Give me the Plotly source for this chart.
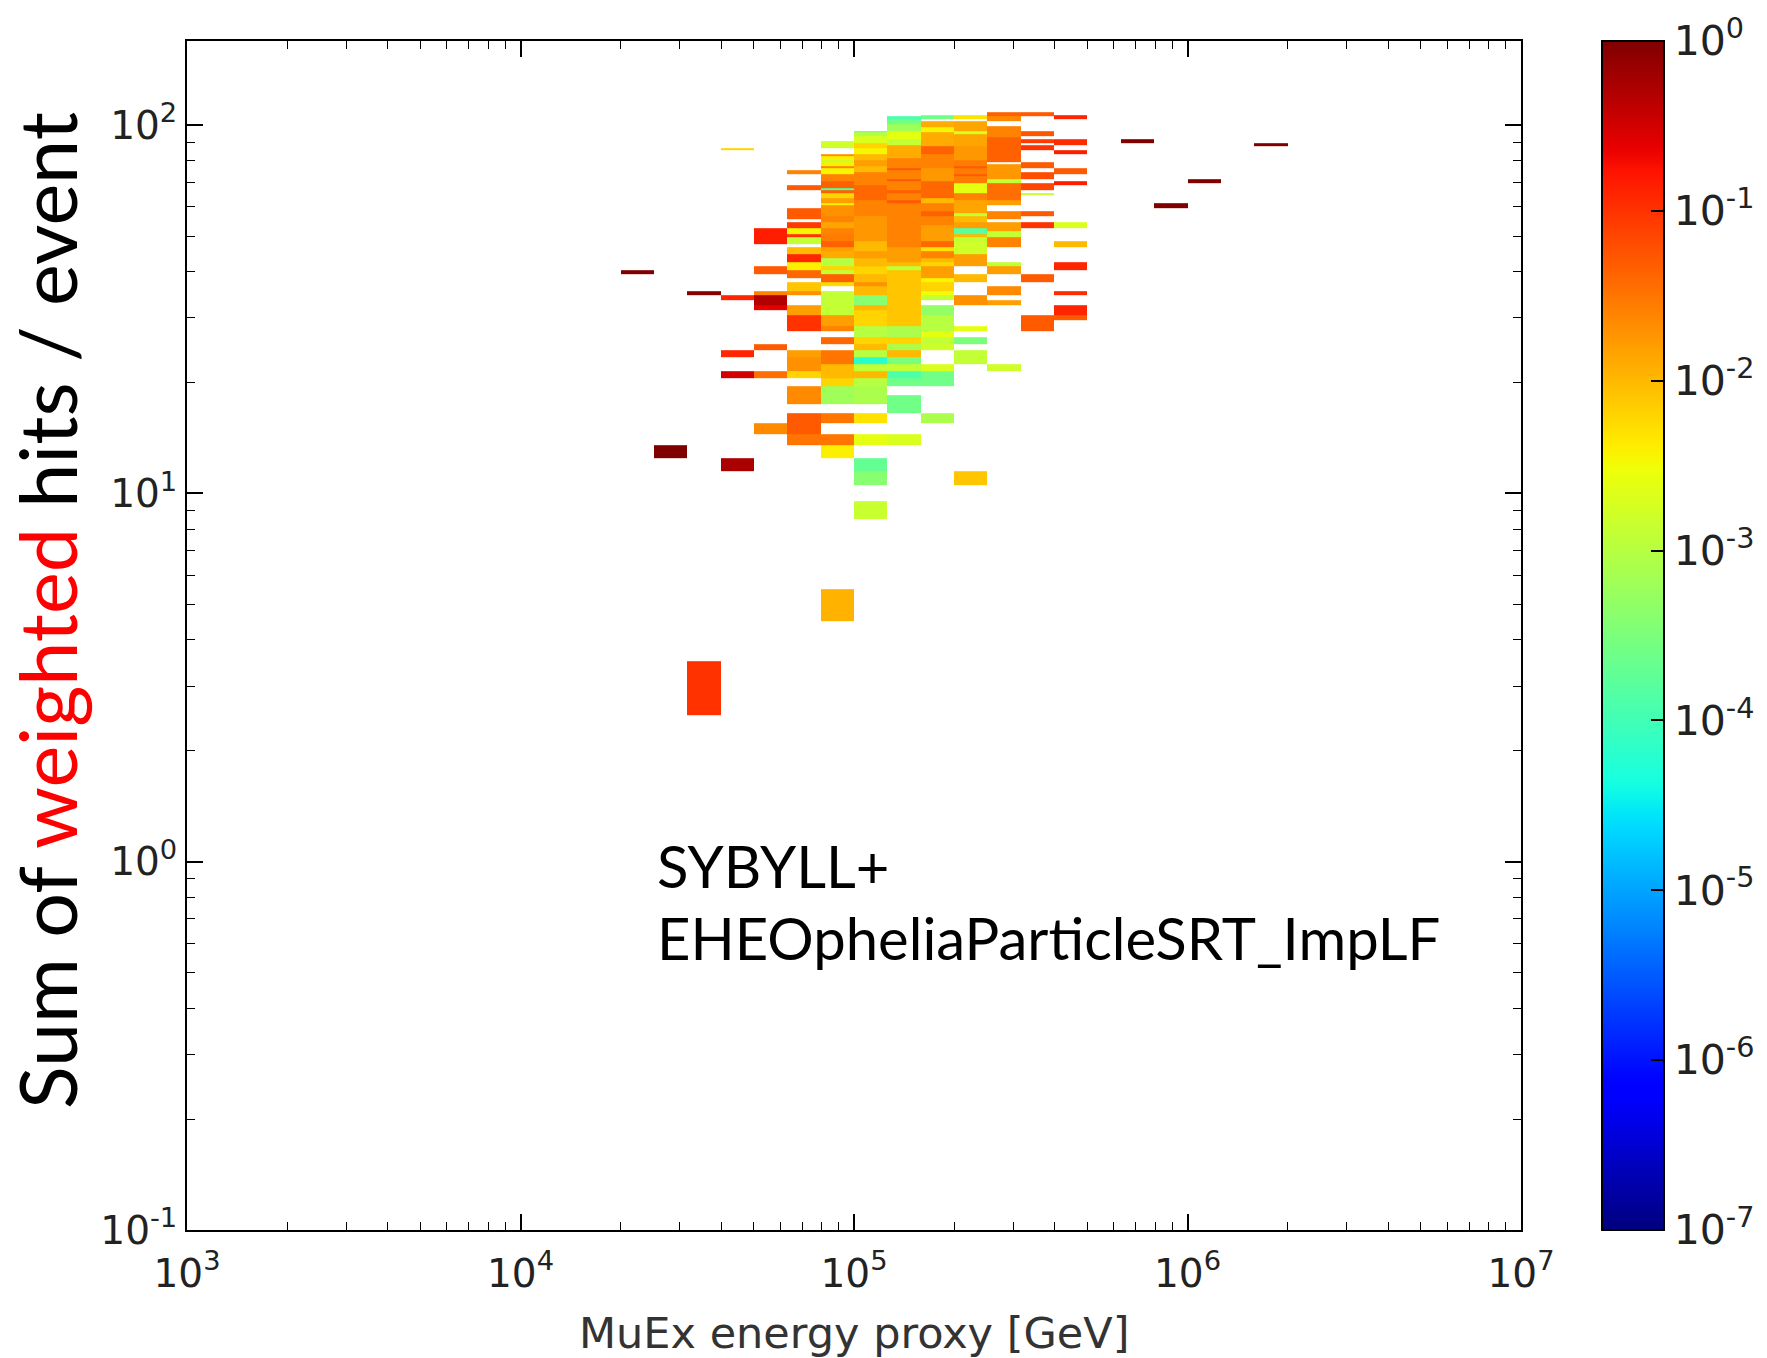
import numpy as np
import plotly.graph_objects as go

# ---------------- data ----------------
# x bins: log10(E/GeV) in steps of 0.1 ; y bins: integer hit sums (width 1)
# each column: list of (hits_low, hits_high, log10(weight))
c43 = [(40, 40, 0.0)]
c44 = [(13, 13, 0.0)]
c45 = [(35, 35, -0.05), (3, 3, -1.0)]
c46 = [(86, 86, -2.2), (34, 34, -0.9), (24, 24, -0.9), (21, 21, -0.5), (12, 12, -0.25)]
c47 = [(48, 52, -0.85), (40, 41, -1.3), (35, 35, -1.6), (33, 34, -0.3), (32, 32, -0.6),
       (25, 25, -1.3), (21, 21, -1.45), (15, 15, -1.65)]
c48 = [(74, 75, -1.6), (67, 68, -1.3), (56, 59, -1.3), (53, 54, -1.05), (51, 52, -2.45),
       (50, 50, -1.0), (48, 49, -2.9), (45, 46, -2.0), (43, 44, -0.9), (41, 42, -2.4),
       (39, 40, -1.4), (36, 37, -2.1), (35, 35, -1.7), (31, 32, -1.8), (28, 30, -1.0),
       (24, 24, -1.8), (22, 23, -1.7), (21, 21, -2.2), (18, 19, -1.65), (15, 16, -1.3),
       (14, 14, -1.5)]
c49 = [(87, 90, -2.8), (83, 83, -1.7), (81, 82, -2.4), (80, 80, -2.9), (78, 79, -2.4),
       (77, 77, -1.6), (74, 76, -2.45), (71, 73, -1.6), (68, 70, -1.35), (67, 67, -3.8),
       (66, 66, -1.35), (64, 65, -2.2), (62, 63, -1.8), (61, 61, -2.4), (57, 60, -1.7),
       (55, 56, -1.6), (53, 54, -1.85), (51, 52, -1.6), (49, 50, -1.55), (47, 48, -1.35),
       (46, 46, -1.8), (44, 45, -1.9), (42, 43, -3.0), (41, 41, -2.2), (40, 40, -2.9),
       (38, 39, -1.35), (37, 37, -2.25), (33, 35, -2.9), (31, 32, -2.9), (29, 30, -1.8),
       (28, 28, -1.6), (26, 26, -1.4), (23, 24, -1.5), (21, 22, -2.0), (20, 20, -2.2),
       (18, 19, -3.2), (16, 16, -1.5), (14, 14, -1.5), (13, 13, -2.4), (5, 5, -1.95)]
c50 = [(96, 96, -3.9), (94, 95, -3.0), (90, 93, -2.7), (87, 89, -2.2), (84, 86, -2.45),
       (81, 83, -2.0), (78, 80, -1.8), (75, 77, -2.0), (69, 74, -1.6), (63, 68, -1.4),
       (57, 62, -1.6), (49, 56, -1.75), (35, 48, -2.0), (44, 45, -1.8), (40, 41, -2.2),
       (37, 37, -1.7), (33, 34, -3.4), (32, 32, -2.0), (29, 31, -2.2), (27, 28, -3.0),
       (26, 26, -2.2), (25, 25, -2.0), (24, 24, -3.0), (23, 23, -4.2), (22, 22, -2.9),
       (21, 21, -2.0), (20, 20, -3.0), (18, 19, -3.1), (16, 16, -2.3), (14, 14, -2.6),
       (12, 12, -3.7), (11, 11, -3.4), (9, 9, -2.85)]
c51 = [(104, 105, -3.9), (101, 103, -3.6), (97, 100, -3.2), (92, 96, -2.6), (89, 91, -2.9),
       (82, 88, -1.9), (57, 81, -1.6), (76, 76, -1.3), (71, 71, -1.3), (66, 66, -1.35),
       (62, 62, -1.3), (47, 56, -1.6), (43, 46, -1.8), (42, 42, -2.0), (41, 41, -2.9),
       (29, 40, -2.1), (27, 28, -3.1), (26, 26, -2.2), (25, 25, -3.1), (24, 24, -2.0),
       (23, 23, -3.5), (22, 22, -2.9), (21, 21, -3.9), (20, 20, -3.6), (17, 18, -3.6),
       (14, 14, -2.7)]
c52 = [(104, 106, -3.6), (99, 102, -1.9), (96, 98, -2.45), (88, 95, -1.9), (84, 87, -1.35),
       (77, 83, -1.6), (71, 76, -1.75), (64, 70, -1.4), (62, 63, -2.0), (59, 61, -1.6),
       (57, 58, -1.35), (54, 56, -1.6), (49, 53, -1.8), (47, 48, -1.4), (46, 46, -2.3),
       (44, 45, -1.6), (43, 43, -2.0), (42, 42, -2.2), (39, 41, -1.8), (38, 38, -2.45),
       (36, 37, -2.2), (35, 35, -2.5), (34, 34, -2.9), (31, 32, -3.3), (28, 30, -3.0),
       (27, 27, -2.6), (26, 26, -2.9), (25, 25, -2.8), (22, 22, -2.7), (20, 21, -3.6),
       (16, 16, -3.1)]
c53 = [(104, 106, -2.3), (97, 102, -1.85), (95, 96, -2.7), (88, 94, -1.85), (81, 87, -1.75),
       (70, 80, -1.55), (77, 77, -1.3), (73, 73, -1.3), (66, 69, -2.6), (63, 65, -1.6),
       (58, 62, -1.85), (57, 57, -2.9), (55, 56, -2.0), (53, 54, -1.8), (51, 52, -3.8),
       (50, 50, -2.0), (49, 49, -2.9), (45, 48, -2.8), (44, 44, -1.8), (42, 43, -1.8),
       (38, 39, -2.0), (33, 34, -1.7), (28, 28, -2.6), (26, 26, -3.5), (23, 24, -2.9),
       (11, 11, -2.1)]
c54 = [(106, 108, -1.35), (103, 105, -1.65), (93, 99, -1.6), (80, 92, -1.35), (72, 78, -1.75),
       (70, 71, -2.9), (63, 69, -1.45), (61, 62, -1.8), (56, 58, -1.6), (52, 54, -1.8),
       (50, 51, -2.9), (47, 49, -1.6), (42, 42, -2.9), (40, 41, -1.8), (35, 36, -1.65),
       (33, 33, -1.8), (22, 22, -2.8)]
c55 = [(106, 108, -1.3), (94, 96, -1.25), (90, 91, -1.05), (86, 88, -1.0), (77, 79, -1.3),
       (72, 74, -1.2), (67, 69, -1.15), (65, 65, -2.9), (57, 58, -1.3), (53, 54, -1.0),
       (38, 39, -1.3), (28, 30, -1.3)]
c56 = [(104, 106, -0.9), (89, 91, -0.95), (84, 85, -0.85), (74, 76, -1.3), (69, 70, -0.85),
       (53, 54, -2.7), (47, 48, -2.0), (41, 42, -0.9), (35, 35, -0.95), (31, 32, -0.9),
       (30, 30, -1.3)]
c58 = [(90, 91, 0.0)]
c59 = [(60, 61, 0.0)]
c60 = [(70, 71, 0.0)]
c62 = [(88, 89, 0.0)]

column_logE = [4.3, 4.4, 4.5, 4.6, 4.7, 4.8, 4.9, 5.0, 5.1, 5.2, 5.3, 5.4, 5.5, 5.6,
               5.8, 5.9, 6.0, 6.2]
column_cells = [c43, c44, c45, c46, c47, c48, c49, c50, c51, c52, c53, c54, c55, c56,
                c58, c59, c60, c62]

x_tick_vals = [1e3, 1e4, 1e5, 1e6, 1e7]
x_tick_text = ["10<sup>3</sup>", "10<sup>4</sup>", "10<sup>5</sup>", "10<sup>6</sup>", "10<sup>7</sup>"]
y_tick_vals = [0.1, 1, 10, 100]
y_tick_text = ["10<sup>-1</sup>", "10<sup>0</sup>", "10<sup>1</sup>", "10<sup>2</sup>"]
cb_tick_vals = [-7, -6, -5, -4, -3, -2, -1, 0]
cb_tick_text = ["10<sup>%d</sup>" % v for v in cb_tick_vals]

label_line1 = "SYBYLL+"
label_line2 = "EHEOpheliaParticleSRT_ImpLF"

# ---------------- binning / matrix ----------------
log_edges = np.round(np.arange(3.0, 7.0001, 0.1), 2)
x_edges = 10 ** log_edges
n_hits = 110
y_edges = np.arange(0.5, n_hits + 0.51, 1.0)
z = np.full((n_hits, len(log_edges) - 1), np.nan)
for le, cells in zip(column_logE, column_cells):
    j = int(round((le - 3.0) / 0.1))
    for lo, hi, w in cells:
        for h in range(lo, hi + 1):
            z[h - 1, j] = w

# matplotlib "jet" colormap as plotly colorscale
def jet(t):
    r = np.interp(t, [0, 0.35, 0.66, 0.89, 1], [0, 0, 1, 1, 0.5])
    g = np.interp(t, [0, 0.125, 0.375, 0.64, 0.91, 1], [0, 0, 1, 1, 0, 0])
    b = np.interp(t, [0, 0.11, 0.34, 0.65, 1], [0.5, 1, 1, 0, 0])
    return "rgb(%d,%d,%d)" % (round(r * 255), round(g * 255), round(b * 255))

ts = np.linspace(0, 1, 101)
jet_scale = [[float(t), jet(t)] for t in ts]

W, H = 1767, 1358
L, R, T, B = 187, 246, 41, 128
pw = W - L - R
ph = H - T - B

fig = go.Figure()
fig.add_trace(go.Heatmap(
    x=x_edges, y=y_edges, z=z, colorscale=jet_scale, zmin=-7, zmax=0,
    hoverinfo="skip", zsmooth=False,
    colorbar=dict(
        x=(1602 - L) / pw, xanchor="left", xpad=0, y=0.5, yanchor="middle",
        len=1.0, lenmode="fraction", ypad=0, thickness=62, thicknessmode="pixels",
        outlinecolor="black", outlinewidth=2,
        tickvals=cb_tick_vals, ticktext=cb_tick_text, ticks="inside", ticklen=14,
        tickwidth=1.5, tickcolor="black",
        tickfont=dict(family="DejaVu Sans", size=41, color="#222"),
    ),
))

tick_font = dict(family="DejaVu Sans", size=39, color="#222")
x_minor = [k * 10 ** n for n in range(3, 7) for k in range(2, 10)]
y_minor = [k * 10.0 ** n for n in range(-1, 2) for k in range(2, 10)]

fig.update_xaxes(
    type="log", range=[3, 7], tickvals=x_tick_vals, ticktext=x_tick_text,
    ticks="inside", ticklen=16, tickwidth=1.5, tickcolor="black",
    showline=True, linecolor="black", linewidth=2, mirror="allticks",
    showgrid=False, zeroline=False, tickfont=tick_font, ticklabelstandoff=8,
    minor=dict(tickvals=x_minor, ticks="inside", ticklen=8, tickwidth=1.2, tickcolor="black", showgrid=False),
)
fig.update_yaxes(
    type="log", range=[-1, 2.2285], tickvals=y_tick_vals, ticktext=y_tick_text,
    ticks="inside", ticklen=16, tickwidth=1.5, tickcolor="black",
    showline=True, linecolor="black", linewidth=2, mirror="allticks",
    showgrid=False, zeroline=False, tickfont=tick_font,
    minor=dict(tickvals=y_minor, ticks="inside", ticklen=8, tickwidth=1.2, tickcolor="black", showgrid=False),
)

fig.add_annotation(
    xref="paper", yref="paper", x=(46 - L) / pw, y=(H - B - 611) / ph,
    text="Sum of <span style='color:red'>weighted</span> hits / event",
    textangle=-90, showarrow=False, xanchor="center", yanchor="middle",
    font=dict(family="Lato", size=79, color="black"),
)
fig.add_annotation(
    xref="paper", yref="paper", x=(655 - L) / pw, y=(H - B - 865) / ph,
    text=label_line1, showarrow=False, xanchor="left", yanchor="middle",
    font=dict(family="Lato", size=58, color="black"),
)
fig.add_annotation(
    xref="paper", yref="paper", x=(655 - L) / pw, y=(H - B - 937) / ph,
    text=label_line2, showarrow=False, xanchor="left", yanchor="middle",
    font=dict(family="Lato", size=58, color="black"),
)
fig.add_annotation(
    xref="paper", yref="paper", x=(854 - L) / pw, y=(H - B - 1333) / ph,
    text="MuEx energy proxy [GeV]", showarrow=False, xanchor="center", yanchor="middle",
    font=dict(family="DejaVu Sans", size=43, color="#333"),
)

fig.update_layout(
    width=W, height=H, margin=dict(l=L, r=R, t=T, b=B, pad=0, autoexpand=False),
    plot_bgcolor="white", paper_bgcolor="white", showlegend=False,
)
fig.write_html("out.html")
